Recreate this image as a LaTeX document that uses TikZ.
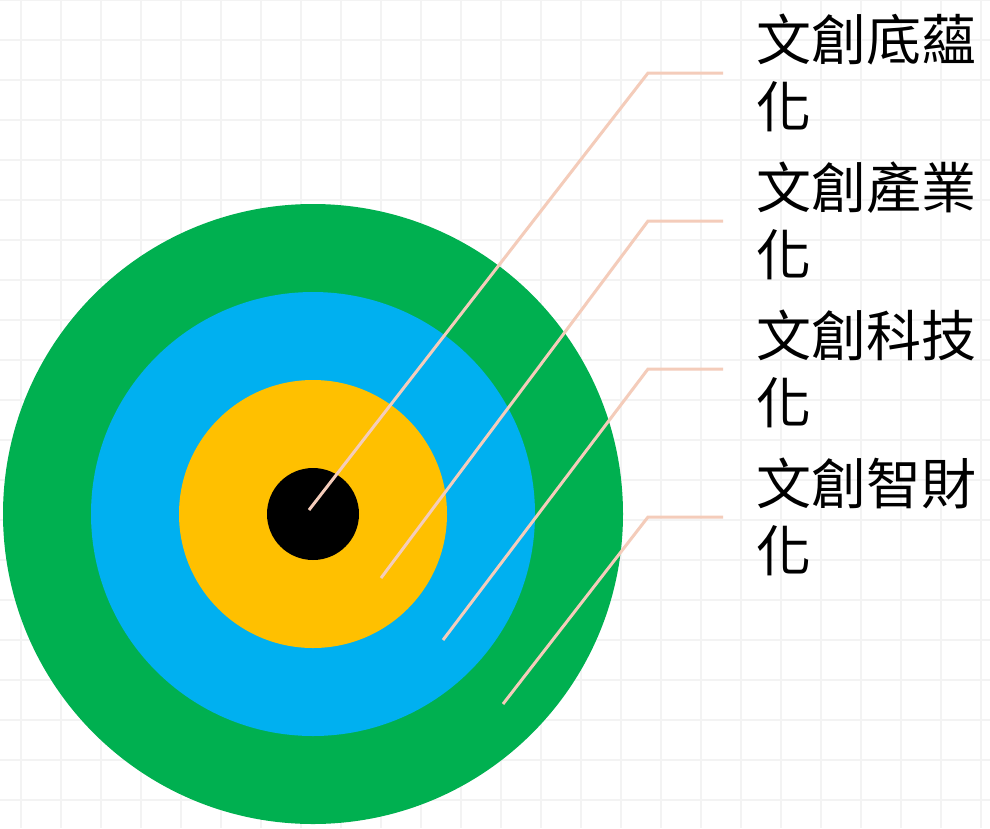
\documentclass[tikz,border=0pt]{standalone}
\usepackage{fontspec}
\newfontfamily\cjk{Noto Sans CJK TC}
\definecolor{ringgreen}{HTML}{00B050}
\definecolor{ringblue}{HTML}{00B0F0}
\definecolor{ringyellow}{HTML}{FFC000}
\definecolor{leader}{HTML}{F4CCBA}
\definecolor{gridgray}{HTML}{F3F3F3}
\begin{document}
\begin{tikzpicture}[x=1pt,y=-1pt,
  ring/.style={circle,inner sep=0pt,draw=none},
  leadline/.style={draw=leader,line width=3pt},
  lbl/.style={anchor=west,inner sep=0pt,align=left,font=\cjk\fontsize{55}{67}\selectfont}]
\useasboundingbox (0,0) rectangle (990,828);
\fill[white] (0,0) rectangle (990,828);
\foreach \gx in {21,61,...,990} \draw[gridgray,line width=2pt] (\gx,0) -- (\gx,828);
\foreach \gy in {0,40,...,828} \draw[gridgray,line width=2pt] (0,\gy) -- (990,\gy);
\node[ring,fill=ringgreen,minimum size=620pt] (g) at (313,514) {};
\node[ring,fill=ringblue,minimum size=444pt] (b) at (313,514) {};
\node[ring,fill=ringyellow,minimum size=268pt] (y) at (313,514) {};
\node[ring,fill=black,minimum size=92pt] (k) at (313,514) {};
\node[lbl] (t1) at (756,73) {文創底蘊\\化};
\node[lbl] (t2) at (756,221) {文創產業\\化};
\node[lbl] (t3) at (756,369) {文創科技\\化};
\node[lbl] (t4) at (756,517) {文創智財\\化};
\coordinate (s1) at (309,510); \coordinate (c1) at (648,73); \coordinate (e1) at (723,73);
\coordinate (s2) at (381,578); \coordinate (c2) at (648,221); \coordinate (e2) at (723,221);
\coordinate (s3) at (443,640); \coordinate (c3) at (648,369); \coordinate (e3) at (723,369);
\coordinate (s4) at (503,704); \coordinate (c4) at (648,517); \coordinate (e4) at (723,517);
\draw[leadline] (s1) -- (c1) -- (e1);
\draw[leadline] (s2) -- (c2) -- (e2);
\draw[leadline] (s3) -- (c3) -- (e3);
\draw[leadline] (s4) -- (c4) -- (e4);
\end{tikzpicture}
\end{document}
